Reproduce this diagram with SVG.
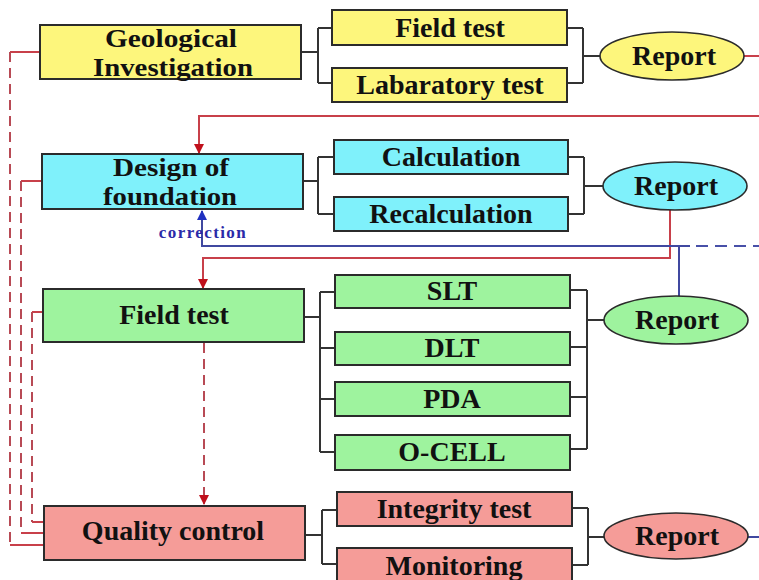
<svg xmlns="http://www.w3.org/2000/svg" width="759" height="580" viewBox="0 0 759 580">
  <style>
    .box { stroke: #2b2b2b; stroke-width: 2; }
    .oval { stroke: #2b2b2b; stroke-width: 1.6; }
    .yel { fill: #fdf67c; }
    .cya { fill: #7ff1fb; }
    .grn { fill: #9ef39e; }
    .pnk { fill: #f59c98; }
    .lbl { font-family: "Liberation Serif", "Times New Roman", serif; font-weight: bold; font-size: 28px; fill: #111; text-anchor: middle; }
    .lbl2 { font-family: "Liberation Serif", "Times New Roman", serif; font-weight: bold; font-size: 26px; fill: #111; text-anchor: middle; }
    .tree { fill: none; stroke: #333; stroke-width: 2; }
    .red { fill: none; stroke: #c8404a; stroke-width: 2; }
    .reddash { fill: none; stroke: #b84a55; stroke-width: 2; stroke-dasharray: 10 6; }
    .blue { fill: none; stroke: #4048a0; stroke-width: 2; }
    .bluedash { fill: none; stroke: #4850a8; stroke-width: 2; stroke-dasharray: 12 7; }
    .note { font-family: "Liberation Serif", "Times New Roman", serif; font-weight: bold; font-size: 17px; letter-spacing: 1.4px; fill: #2a2aa8; text-anchor: middle; }
  </style>
  <defs>
    <marker id="arrRed" viewBox="0 0 10 10" refX="9" refY="5" markerWidth="5" markerHeight="5" orient="auto">
      <path d="M0,0 L10,5 L0,10 z" fill="#c0101c"/>
    </marker>
    <marker id="arrBlue" viewBox="0 0 10 10" refX="9" refY="5" markerWidth="5" markerHeight="5" orient="auto">
      <path d="M0,0 L10,5 L0,10 z" fill="#2030c0"/>
    </marker>
  </defs>
  <rect width="759" height="580" fill="#ffffff"/>

  <!-- connectors -->
  <g id="connectors">
    <!-- tree brackets -->
    <path class="tree" d="M301,52 H318 M318,28 V83 M318,28 H332 M318,83 H332"/>
    <path class="tree" d="M567,28 H583 M567,83 H583 M583,28 V83 M583,56 H600"/>
    <path class="tree" d="M303,181 H318 M318,157 V214 M318,157 H334 M318,214 H334"/>
    <path class="tree" d="M568,157 H584 M568,214 H584 M584,157 V214 M584,186 H603"/>
    <path class="tree" d="M304,317 H320 M320,292 V452 M320,292 H335 M320,348 H335 M320,399 H335 M320,452 H335"/>
    <path class="tree" d="M570,290 H587 M570,347 H587 M570,397 H587 M570,449 H587 M587,290 V449 M587,320 H604"/>
    <path class="tree" d="M305,535 H322 M322,510 V564 M322,510 H337 M322,564 H337"/>
    <path class="tree" d="M572,508 H588 M572,565 H588 M588,508 V565 M588,537 H605"/>

    <!-- report flows -->
    <path class="red" d="M743,56 H759"/>
    <path class="red" d="M759,116 H199 V153" marker-end="url(#arrRed)"/>
    <path class="red" d="M670,210 V258 H203 V288" marker-end="url(#arrRed)"/>
    <path class="blue" d="M202,222 V246 H690"/>
    <path class="blue" d="M202,230 V211" marker-end="url(#arrBlue)"/>
    <path class="bluedash" d="M696,246 H759"/>
    <path class="blue" d="M679,246 V297"/>
    <path class="blue" d="M748,537 H759"/>

    <!-- quality control feedback -->
    <path class="reddash" d="M204,343 V504" marker-end="url(#arrRed)"/>
    <path class="red" d="M40,52 H10 M10,545 H44"/>
    <path class="reddash" d="M10,52 V545"/>
    <path class="red" d="M42,181 H21 M21,533 H44"/>
    <path class="reddash" d="M21,181 V533"/>
    <path class="red" d="M43,312 H32 M32,522 H44"/>
    <path class="reddash" d="M32,312 V522"/>
  </g>

  <!-- Geological investigation row -->
  <g id="geological">
    <rect class="box yel" x="40" y="25" width="261" height="54"/>
    <text class="lbl2" x="171" y="47" textLength="132" lengthAdjust="spacingAndGlyphs">Geological</text>
    <text class="lbl2" x="173" y="76" textLength="160" lengthAdjust="spacingAndGlyphs">Investigation</text>
  </g>
  <g id="field-test-small">
    <rect class="box yel" x="332" y="10" width="235" height="35"/>
    <text class="lbl" x="450" y="37">Field test</text>
  </g>
  <g id="lab-test">
    <rect class="box yel" x="332" y="68" width="235" height="34"/>
    <text class="lbl" x="450" y="94">Labaratory test</text>
  </g>
  <g id="report-1">
    <ellipse class="oval yel" cx="672" cy="56" rx="72" ry="24"/>
    <text class="lbl" x="674" y="65">Report</text>
  </g>

  <!-- Design row -->
  <g id="design">
    <rect class="box cya" x="42" y="154" width="261" height="55"/>
    <text class="lbl2" x="171" y="176" textLength="116" lengthAdjust="spacingAndGlyphs">Design of</text>
    <text class="lbl2" x="170" y="205" textLength="134" lengthAdjust="spacingAndGlyphs">foundation</text>
  </g>
  <g id="calculation">
    <rect class="box cya" x="334" y="140" width="234" height="34"/>
    <text class="lbl" x="451" y="166">Calculation</text>
  </g>
  <g id="recalculation">
    <rect class="box cya" x="334" y="197" width="234" height="34"/>
    <text class="lbl" x="451" y="223">Recalculation</text>
  </g>
  <g id="report-2">
    <ellipse class="oval cya" cx="675" cy="186" rx="72" ry="24"/>
    <text class="lbl" x="676" y="195">Report</text>
  </g>
  <g id="correction-label">
    <text class="note" x="203" y="238">correction</text>
  </g>

  <!-- Field test row -->
  <g id="field-test">
    <rect class="box grn" x="43" y="289" width="261" height="53"/>
    <text class="lbl" x="174" y="324">Field test</text>
  </g>
  <g id="slt">
    <rect class="box grn" x="335" y="275" width="235" height="33"/>
    <text class="lbl" x="452" y="300">SLT</text>
  </g>
  <g id="dlt">
    <rect class="box grn" x="335" y="332" width="235" height="33"/>
    <text class="lbl" x="452" y="357">DLT</text>
  </g>
  <g id="pda">
    <rect class="box grn" x="335" y="382" width="235" height="34"/>
    <text class="lbl" x="452" y="408">PDA</text>
  </g>
  <g id="o-cell">
    <rect class="box grn" x="335" y="435" width="235" height="35"/>
    <text class="lbl" x="452" y="461">O-CELL</text>
  </g>
  <g id="report-3">
    <ellipse class="oval grn" cx="676" cy="320" rx="72" ry="24"/>
    <text class="lbl" x="677" y="329">Report</text>
  </g>

  <!-- Quality control row -->
  <g id="quality-control">
    <rect class="box pnk" x="44" y="506" width="261" height="54"/>
    <text class="lbl" x="173" y="540">Quality control</text>
  </g>
  <g id="integrity-test">
    <rect class="box pnk" x="337" y="492" width="235" height="34"/>
    <text class="lbl" x="454" y="518">Integrity test</text>
  </g>
  <g id="monitoring">
    <rect class="box pnk" x="337" y="548" width="235" height="36"/>
    <text class="lbl" x="454" y="575">Monitoring</text>
  </g>
  <g id="report-4">
    <ellipse class="oval pnk" cx="676" cy="536" rx="72" ry="23"/>
    <text class="lbl" x="677" y="545">Report</text>
  </g>
</svg>
